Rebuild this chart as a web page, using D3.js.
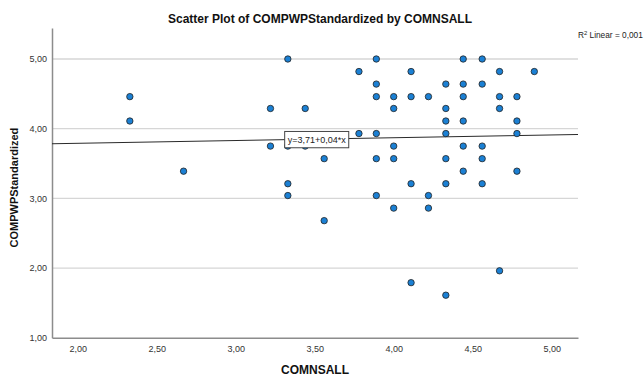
<!DOCTYPE html>
<html>
<head>
<meta charset="utf-8">
<script src="https://cdn.jsdelivr.net/npm/d3@7"></script>
<style>
  html, body { margin: 0; padding: 0; background: #fff; }
  svg { display: block; font-family: "Liberation Sans", Arial, sans-serif; }
</style>
</head>
<body>
<svg id="chart" width="644" height="376"></svg>
<script>
// COMNSALL (x) and COMPWPStandardized (y), one entry per respondent
const comnsall = [
  2.33, 2.33,
  2.67,
  3.22, 3.22,
  3.33, 3.33, 3.33, 3.33,
  3.44, 3.44,
  3.56, 3.56,
  3.78, 3.78,
  3.89, 3.89, 3.89, 3.89, 3.89, 3.89,
  4.00, 4.00, 4.00, 4.00, 4.00,
  4.11, 4.11, 4.11, 4.11,
  4.22, 4.22, 4.22,
  4.33, 4.33, 4.33, 4.33, 4.33, 4.33, 4.33,
  4.44, 4.44, 4.44, 4.44, 4.44, 4.44,
  4.56, 4.56, 4.56, 4.56, 4.56,
  4.67, 4.67, 4.67, 4.67,
  4.78, 4.78, 4.78, 4.78,
  4.89
];
const compwp = [
  4.46, 4.11,
  3.39,
  4.29, 3.75,
  5.00, 3.75, 3.21, 3.04,
  4.29, 3.75,
  3.57, 2.68,
  4.82, 3.93,
  5.00, 4.64, 4.46, 3.93, 3.57, 3.04,
  4.46, 4.29, 3.75, 3.57, 2.86,
  4.82, 4.46, 3.21, 1.79,
  4.46, 3.04, 2.86,
  4.64, 4.29, 4.11, 3.93, 3.57, 3.21, 1.61,
  5.00, 4.64, 4.46, 4.11, 3.75, 3.39,
  5.00, 4.64, 3.75, 3.57, 3.21,
  4.82, 4.46, 4.29, 1.96,
  4.46, 4.11, 3.93, 3.39,
  4.82
];

// Axis ticks
const xTicks = [2.0, 2.5, 3.0, 3.5, 4.0, 4.5, 5.0];
const yTicks = [1, 2, 3, 4, 5];

// Linear fit line and its statistics
const fitIntercept = 3.71;
const fitSlope = 0.04;
const rSquared = 0.001;

const titleText = "Scatter Plot of COMPWPStandardized by COMNSALL";
const xTitle = "COMNSALL";
const yTitle = "COMPWPStandardized";

// Layout
const W = 644, H = 376;
const margin = { top: 28, right: 66, bottom: 38.3, left: 52 };
const innerW = W - margin.left - margin.right;
const innerH = H - margin.top - margin.bottom;

const fmt = v => d3.format(".2f")(v).replace(".", ",");
const fmt3 = v => d3.format(".3f")(v).replace(".", ",");

const x = d3.scaleLinear().domain([1.8373, 5.1665]).range([0, innerW]);
const y = d3.scaleLinear().domain([1, 5.445]).range([innerH, 0]);

const svg = d3.select("#chart");
const g = svg.append("g").attr("transform", `translate(${margin.left},${margin.top})`);

// Horizontal gridlines
g.append("g")
  .selectAll("line")
  .data(yTicks.filter(t => t !== y.domain()[0]))
  .join("line")
  .attr("x1", 0).attr("x2", innerW)
  .attr("y1", d => y(d)).attr("y2", d => y(d))
  .attr("stroke", "#d6d6d6")
  .attr("stroke-width", 1.3);

// Axes
const yAxis = g.append("g")
  .call(d3.axisLeft(y).tickValues(yTicks).tickFormat(fmt).tickSize(0).tickPadding(5));
const xAxis = g.append("g")
  .attr("transform", `translate(0,${innerH})`)
  .call(d3.axisBottom(x).tickValues(xTicks).tickFormat(fmt).tickSize(0).tickPadding(8));

[xAxis, yAxis].forEach(a => {
  a.select(".domain").attr("stroke", "#8c8c8c").attr("stroke-width", 1.5);
  a.selectAll("text")
    .attr("fill", "#333")
    .style("font-size", "9px")
    .style("font-family", "'Liberation Sans', Arial, sans-serif");
});

// Fit line across the plotted range
const fit = v => fitIntercept + fitSlope * v;
g.append("line")
  .attr("x1", x(x.domain()[0])).attr("y1", y(fit(x.domain()[0])))
  .attr("x2", x(x.domain()[1])).attr("y2", y(fit(x.domain()[1])))
  .attr("stroke", "#2a2a2a")
  .attr("stroke-width", 1);

// Points
const points = comnsall.map((v, i) => ({ x: v, y: compwp[i] }));
g.append("g")
  .selectAll("circle")
  .data(points)
  .join("circle")
  .attr("cx", d => x(d.x))
  .attr("cy", d => y(d.y))
  .attr("r", 3.2)
  .attr("fill", "#1b80d4")
  .attr("stroke", "#222")
  .attr("stroke-width", 0.8);

// Equation label on the fit line
const eqAnchor = 3.31;
const eq = g.append("g")
  .attr("transform", `translate(${x(eqAnchor)},${y(fit(eqAnchor))})`);
const eqText = eq.append("text")
  .attr("x", 3)
  .attr("y", 3.2)
  .style("font-size", "9px")
  .attr("fill", "#222")
  .text(`y=${fmt(fitIntercept)}+${fmt(fitSlope)}*x`);
const tw = eqText.node().getComputedTextLength();
eq.insert("rect", "text")
  .attr("x", 0).attr("y", -8.2)
  .attr("width", tw + 6).attr("height", 16.3)
  .attr("fill", "#fff")
  .attr("stroke", "#444")
  .attr("stroke-width", 1);

// R² annotation
const r2 = svg.append("text")
  .attr("x", margin.left + innerW)
  .attr("y", 38)
  .style("font-size", "8.3px")
  .attr("fill", "#222");
r2.append("tspan").text("R");
r2.append("tspan").attr("dy", -3.5).style("font-size", "5.8px").text("2");
r2.append("tspan").attr("dy", 3.5).text(` Linear = ${fmt3(rSquared)}`);

// Titles
svg.append("text")
  .attr("x", margin.left + innerW / 2 + 5)
  .attr("y", 22.5)
  .attr("text-anchor", "middle")
  .style("font-size", "12px")
  .style("font-weight", "bold")
  .attr("fill", "#111")
  .text(titleText);

svg.append("text")
  .attr("x", margin.left + innerW / 2)
  .attr("y", 374)
  .attr("text-anchor", "middle")
  .style("font-size", "12px")
  .style("font-weight", "bold")
  .attr("fill", "#111")
  .text(xTitle);

svg.append("text")
  .attr("transform", `translate(18,${187.6}) rotate(-90)`)
  .attr("text-anchor", "middle")
  .style("font-size", "11px")
  .style("font-weight", "bold")
  .attr("fill", "#111")
  .text(yTitle);
</script>
</body>
</html>
